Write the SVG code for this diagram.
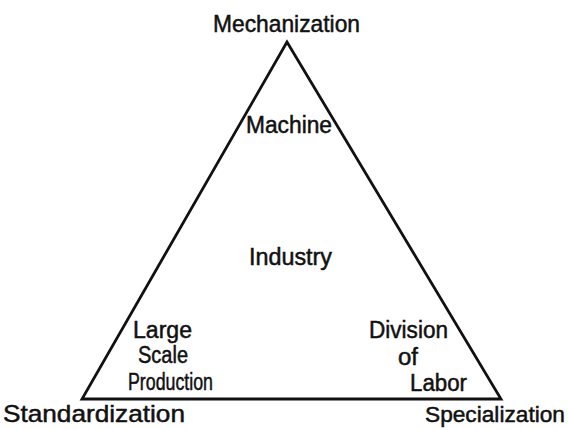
<svg xmlns="http://www.w3.org/2000/svg" width="568" height="430" viewBox="0 0 568 430">
<style>
text{font-family:"Liberation Sans",Arial,sans-serif;fill:#111;stroke:#111;stroke-width:0.5;font-size:23.5px}
.big{font-size:24.5px}
.edge{fill:none;stroke:#111;stroke-width:2.8;stroke-linejoin:miter}
</style>
<rect width="568" height="430" fill="#fff"/>
<g id="connectors">
<path class="edge" d="M287 42 L82 399 L501 399 Z"/>
</g>
<g id="mechanization"><text class="big" x="213" y="32" textLength="147" lengthAdjust="spacingAndGlyphs">Mechanization</text></g>
<g id="machine"><text x="246" y="133" textLength="86" lengthAdjust="spacingAndGlyphs">Machine</text></g>
<g id="industry"><text x="249" y="265" textLength="83" lengthAdjust="spacingAndGlyphs">Industry</text></g>
<g id="large-scale-production">
<text x="133" y="338" textLength="59" lengthAdjust="spacingAndGlyphs">Large</text>
<text x="138" y="363" textLength="50" lengthAdjust="spacingAndGlyphs">Scale</text>
<text x="128" y="390" textLength="85" lengthAdjust="spacingAndGlyphs">Production</text>
</g>
<g id="division-of-labor">
<text x="369" y="338" textLength="79" lengthAdjust="spacingAndGlyphs">Division</text>
<text x="398" y="365" textLength="20" lengthAdjust="spacingAndGlyphs">of</text>
<text x="410" y="391" textLength="57" lengthAdjust="spacingAndGlyphs">Labor</text>
</g>
<g id="standardization"><text class="big" x="3" y="422" textLength="182" lengthAdjust="spacingAndGlyphs">Standardization</text></g>
<g id="specialization"><text x="425" y="422" style="font-size:22.6px" textLength="140" lengthAdjust="spacingAndGlyphs">Specialization</text></g>
</svg>
